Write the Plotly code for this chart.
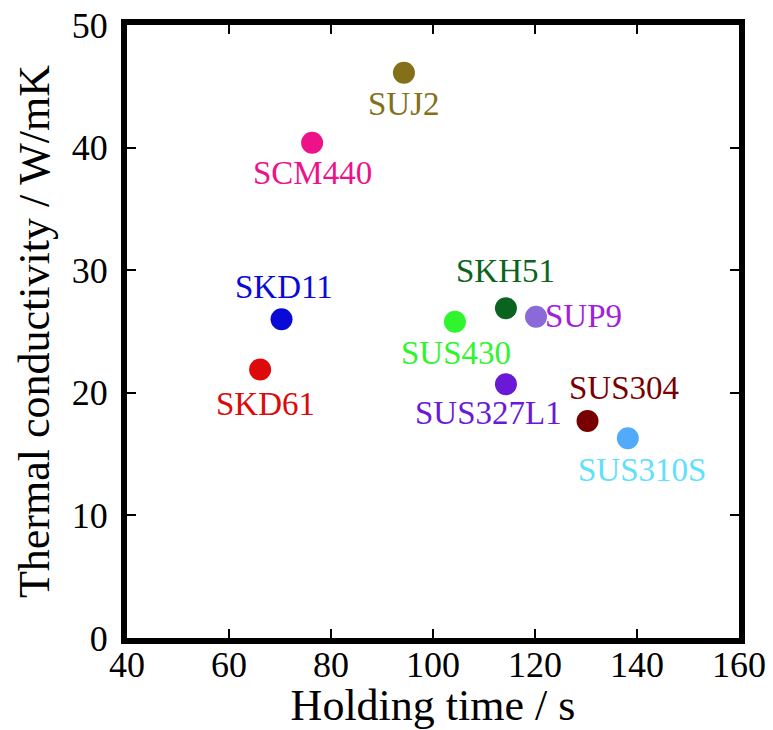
import plotly.graph_objects as go

# ---- data ----
materials = ["SUJ2", "SCM440", "SKD11", "SKD61", "SUS430", "SKH51",
             "SUP9", "SUS327L1", "SUS304", "SUS310S"]
holding_time = [94.3, 76.3, 70.3, 66.1, 104.3, 114.3, 120.2, 114.3, 130.3, 138.2]
conductivity = [46.1, 40.4, 26.0, 21.9, 25.8, 26.9, 26.2, 20.7, 17.7, 16.3]

marker_colors = ["#85701a", "#ee1289", "#0a0ad8", "#dc0a0a", "#2ef52e", "#0a6420",
                 "#8a6ad8", "#6a1ad6", "#780000", "#52aafa"]
label_colors = ["#85701a", "#ee1289", "#0a0ad8", "#dc0a0a", "#2ef52e", "#0a6420",
                "#a020e0", "#6a1ad6", "#780000", "#60e0ff"]
# label offsets in pixels (dx, dy) relative to the point
label_dx = [0, 0, 2, 5, 1, 0, 47, -17, 36, 14]
label_dy = [-31, -30, 32, -34, -31, 37, 1, -29, 33, -32]

FONT = "Liberation Serif"

fig = go.Figure()
fig.add_trace(go.Scatter(
    x=holding_time, y=conductivity, mode="markers",
    marker=dict(size=22, color=marker_colors, line=dict(width=0)),
    hoverinfo="skip", showlegend=False,
))

for name, xv, yv, c, dx, dy in zip(materials, holding_time, conductivity,
                                   label_colors, label_dx, label_dy):
    fig.add_annotation(x=xv, y=yv, xref="x", yref="y", text=name,
                       showarrow=False, xshift=dx, yshift=dy,
                       font=dict(family=FONT, size=33, color=c))

axis_common = dict(
    showline=True, linewidth=6, linecolor="black", mirror="allticks",
    ticks="inside", ticklen=9, tickwidth=1.5, tickcolor="black",
    showgrid=False, zeroline=False, automargin=False,
    tickfont=dict(family=FONT, size=36, color="black"),
)

fig.update_xaxes(range=[40, 160], dtick=20, tick0=40, ticklabelstandoff=-10,
                 title=dict(text="Holding time / s",
                            font=dict(family=FONT, size=44, color="black"),
                            standoff=16),
                 **axis_common)
fig.update_yaxes(range=[0, 50], dtick=10, tick0=0, ticklabelstandoff=6,
                 title=dict(text="Thermal conductivity / W/mK",
                            font=dict(family=FONT, size=44, color="black"),
                            standoff=10),
                 **axis_common)

fig.update_layout(
    width=773, height=730,
    margin=dict(l=127, r=34, t=25, b=92),
    paper_bgcolor="white", plot_bgcolor="white",
    font=dict(family=FONT, color="black"),
)

fig.write_html("out.html")
